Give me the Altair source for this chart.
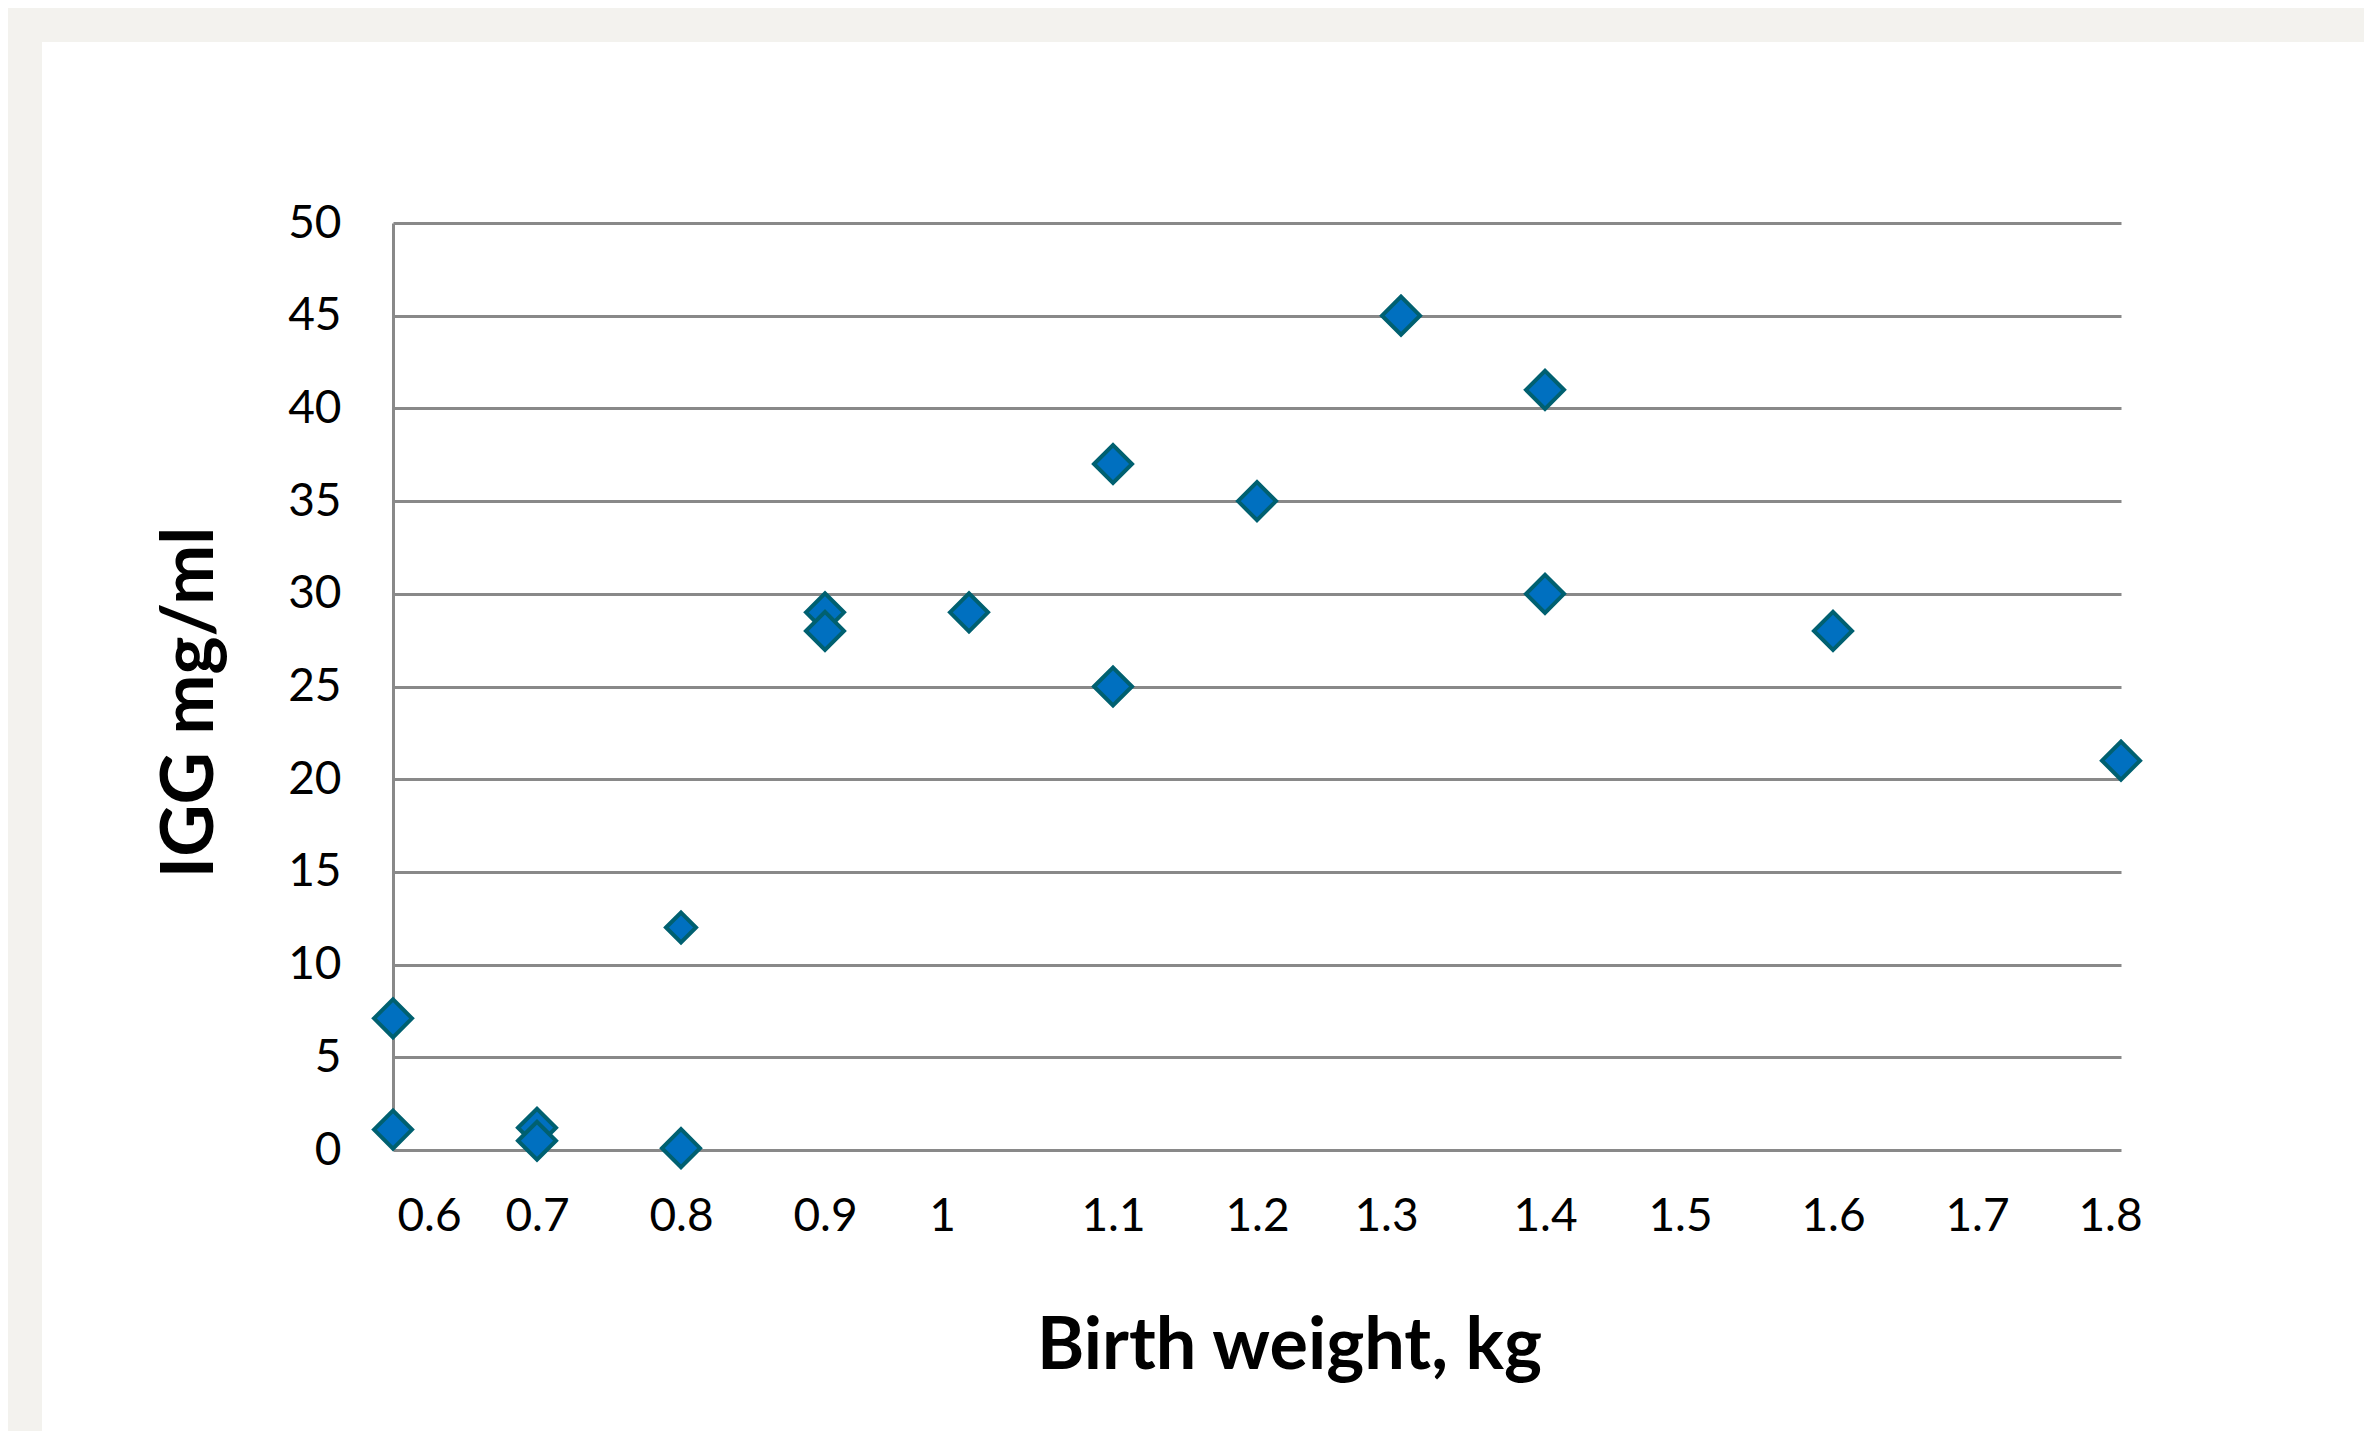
import altair as alt
import pandas as pd

# data
birth_weight = [0.6, 0.6, 0.7, 0.7, 0.8, 0.8, 0.9, 0.9, 1.0, 1.1, 1.1, 1.2, 1.3, 1.4, 1.4, 1.6, 1.8]
igg_mg_ml = [7.1, 1.1, 1.2, 0.5, 12, 0.1, 29, 28, 29, 37, 25, 35, 45, 41, 30, 28, 21]
x_ticks = [0.6, 0.7, 0.8, 0.9, 1.0, 1.1, 1.2, 1.3, 1.4, 1.5, 1.6, 1.7, 1.8]
y_ticks = [0, 5, 10, 15, 20, 25, 30, 35, 40, 45, 50]

df = pd.DataFrame({"w": birth_weight, "igg": igg_mg_ml})

W, H = 1728, 927
PAD_L, PAD_T, PAD_R, PAD_B = 385, 215, 243, 281
FONT = "Lato"
GRID = "#898989"
BORDER = "#f3f2ee"

one = pd.DataFrame({"a": [0]})

left_strip = alt.Chart(one).mark_rect(color=BORDER).encode(
    x=alt.value(-PAD_L), x2=alt.value(-PAD_L + 34),
    y=alt.value(-PAD_T), y2=alt.value(H + PAD_B),
)
top_strip = alt.Chart(one).mark_rect(color=BORDER).encode(
    x=alt.value(-PAD_L), x2=alt.value(W + PAD_R),
    y=alt.value(-PAD_T), y2=alt.value(-PAD_T + 34),
)

# the reference's x labels sit slightly off their ticks
x_label_offset = {
    "condition": [
        {"test": "datum.value == 0.6", "value": 36},
        {"test": "datum.value == 1", "value": -27},
        {"test": "datum.value == 1.3", "value": -15},
        {"test": "datum.value == 1.5", "value": -9},
        {"test": "datum.value == 1.8", "value": -11},
    ],
    "value": 0,
}

points = alt.Chart(df).mark_point(
    shape="diamond", filled=True, fill="#0070c0", stroke="#006070",
    strokeWidth=4, opacity=1,
).encode(
    x=alt.X("w:Q", scale=alt.Scale(domain=[0.6, 1.8], nice=False, zero=False),
            axis=alt.Axis(values=x_ticks, format="~g", grid=False, domain=False, ticks=False,
                          labelFont=FONT, labelFontSize=46, labelColor="#000000",
                          labelPadding=44, labelFlush=False, labelOffset=x_label_offset,
                          title="Birth weight, kg", titleFont=FONT, titleFontSize=72,
                          titleFontWeight="bold", titleColor="#000000",
                          titleBaseline="alphabetic", titleAlign="center",
                          titleX=W / 2 + 32, titleY=218)),
    y=alt.Y("igg:Q", scale=alt.Scale(domain=[0, 50], nice=False),
            axis=alt.Axis(values=y_ticks, grid=True, gridColor=GRID, gridWidth=3,
                          domain=True, domainColor=GRID, domainWidth=3, ticks=False,
                          labelFont=FONT, labelFontSize=46, labelColor="#000000",
                          labelPadding=52, labelFlush=False,
                          title="IGG mg/ml", titleFont=FONT, titleFontSize=72,
                          titleFontWeight="bold", titleColor="#000000",
                          titleAngle=-90, titleBaseline="alphabetic", titleAlign="center",
                          titleX=-181, titleY=479)),
    size=alt.condition((alt.datum.w == 0.8) & (alt.datum.igg == 12),
                       alt.value(900), alt.value(1444)),
)

chart = alt.layer(left_strip, top_strip, points).properties(
    width=W, height=H,
    autosize=alt.AutoSizeParams(type="none"),
    padding={"left": PAD_L, "top": PAD_T, "right": PAD_R, "bottom": PAD_B},
    background="white",
).configure_view(stroke=None)

chart.save("out.html", embed_options={"renderer": "svg", "actions": False})
